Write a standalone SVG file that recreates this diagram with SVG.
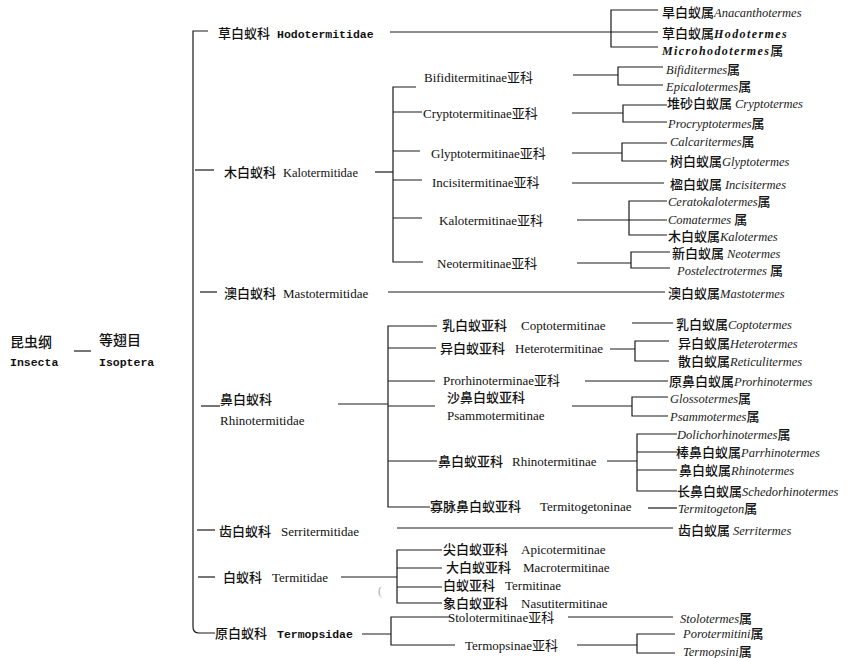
<svg xmlns="http://www.w3.org/2000/svg" width="853" height="658" viewBox="0 0 853 658">
<style>
text{fill:#111}
.zh{font-family:"Noto Sans CJK SC",sans-serif;font-size:13px;font-weight:500}
.zr{font-family:"Noto Sans CJK SC",sans-serif;font-size:14px;font-weight:500}
.sf{font-family:"Liberation Serif","Noto Sans CJK SC",serif;font-size:13px}
.it{font-family:"Liberation Serif",serif;font-style:italic;font-size:12.5px;fill:#222}
.bi{font-family:"Liberation Serif",serif;font-style:italic;font-weight:bold;font-size:12px;letter-spacing:1.4px}
.mo{font-family:"Liberation Mono",monospace;font-weight:bold;font-size:11.5px}
.c path{stroke:#1a1a1a;stroke-width:1.2;fill:none}
</style>
<rect width="853" height="658" fill="#fff"/>
<g id="connectors" class="c">
<path d="M74,351 H91"/>
<path d="M208,31 H193 V627 Q193,633 199,633 H215"/>
<path d="M195,170 H214"/>
<path d="M200,292 H217"/>
<path d="M201,406 H220"/>
<path d="M197,530 H215"/>
<path d="M198,577 H215"/>
<path d="M390,32 H611"/>
<path d="M658,10 H611 V47 H658 M611,32 H658"/>
<path d="M375,172 H393"/>
<path d="M416,87 H393 V262 H423 M393,112 H422 M393,151 H420 M393,180 H422 M393,218 H422"/>
<path d="M573,75 H618 M663,67 H618 V85 H663"/>
<path d="M572,113 H623 M667,105 H623 V122 H667"/>
<path d="M572,153 H622 M667,143 H622 V161 H667"/>
<path d="M572,183 H664"/>
<path d="M577,220 H667 M667,201 H629 V235 H667"/>
<path d="M577,263 H631 M670,252 H631 V268 H670"/>
<path d="M388,292 H665"/>
<path d="M338,404 H388"/>
<path d="M437,326 H388 V507 H430 M388,348 H436 M388,381 H435 M388,406 H435 M388,461 H437"/>
<path d="M632,323 H673"/>
<path d="M610,349 H635 M669,341 H635 V361 H669"/>
<path d="M585,381 H668"/>
<path d="M572,406 H632 M668,397 H632 V416 H668"/>
<path d="M607,461 H637 M677,434 H637 V491 H677 M637,452 H677 M637,470 H677"/>
<path d="M648,508 H677"/>
<path d="M397,528 H673"/>
<path d="M341,577 H397 M442,550 H397 V603 H442 M397,568 H442 M397,587 H442"/>
<path d="M362,634 H391 M450,617 H391 V645 H455"/>
<path d="M568,617 H673"/>
<path d="M577,645 H637 M675,634 H637 V653 H675"/>
</g>
<g id="n-insecta"><text class="zr" x="10" y="347">昆虫纲</text><text class="mo" x="10" y="366">Insecta</text></g>
<g id="n-isoptera"><text class="zr" x="99" y="345">等翅目</text><text class="mo" x="99" y="366">Isoptera</text></g>

<g id="f-hodotermitidae"><text x="218" y="37.5"><tspan class="zh">草白蚁科</tspan><tspan class="mo" x="277">Hodotermitidae</tspan></text></g>
<g id="g-anacanthotermes"><text x="662" y="16.5"><tspan class="zh">旱白蚁属</tspan><tspan class="it">Anacanthotermes</tspan></text></g>
<g id="g-hodotermes"><text x="662" y="37.5"><tspan class="zh">草白蚁属</tspan><tspan class="bi">Hodotermes</tspan></text></g>
<g id="g-microhodotermes"><text x="662" y="54.5"><tspan class="bi">Microhodotermes</tspan><tspan class="zh">属</tspan></text></g>

<g id="f-kalotermitidae"><text x="224" y="176.5"><tspan class="zh">木白蚁科</tspan><tspan class="sf" x="283" style="font-size:12.5px">Kalotermitidae</tspan></text></g>
<g id="s-bifiditermitinae"><text class="sf" x="424" y="81.5">Bifiditermitinae亚科</text></g>
<g id="s-cryptotermitinae"><text class="sf" x="423" y="117.5">Cryptotermitinae亚科</text></g>
<g id="s-glyptotermitinae"><text class="sf" x="431" y="157.5">Glyptotermitinae亚科</text></g>
<g id="s-incisitermitinae"><text class="sf" x="432" y="186.5">Incisitermitinae亚科</text></g>
<g id="s-kalotermitinae"><text class="sf" x="439" y="224.5">Kalotermitinae亚科</text></g>
<g id="s-neotermitinae"><text class="sf" x="437" y="267.5">Neotermitinae亚科</text></g>
<g id="g-bifiditermes"><text x="666" y="73.5"><tspan class="it">Bifiditermes</tspan><tspan class="zh">属</tspan></text></g>
<g id="g-epicalotermes"><text x="666" y="90.5"><tspan class="it">Epicalotermes</tspan><tspan class="zh">属</tspan></text></g>
<g id="g-cryptotermes"><text x="667" y="107.5"><tspan class="zh">堆砂白蚁属 </tspan><tspan class="it">Cryptotermes</tspan></text></g>
<g id="g-procryptotermes"><text x="668" y="127.5"><tspan class="it">Procryptotermes</tspan><tspan class="zh">属</tspan></text></g>
<g id="g-calcaritermes"><text x="670" y="145.5"><tspan class="it">Calcaritermes</tspan><tspan class="zh">属</tspan></text></g>
<g id="g-glyptotermes"><text x="670" y="165.5"><tspan class="zh">树白蚁属</tspan><tspan class="it">Glyptotermes</tspan></text></g>
<g id="g-incisitermes"><text x="670" y="188.5"><tspan class="zh">楹白蚁属 </tspan><tspan class="it">Incisitermes</tspan></text></g>
<g id="g-ceratokalotermes"><text x="668" y="205.5"><tspan class="it">Ceratokalotermes</tspan><tspan class="zh">属</tspan></text></g>
<g id="g-comatermes"><text x="668" y="223.5"><tspan class="it">Comatermes </tspan><tspan class="zh">属</tspan></text></g>
<g id="g-kalotermes"><text x="668" y="240.5"><tspan class="zh">木白蚁属</tspan><tspan class="it">Kalotermes</tspan></text></g>
<g id="g-neotermes"><text x="672" y="257.5"><tspan class="zh">新白蚁属 </tspan><tspan class="it">Neotermes</tspan></text></g>
<g id="g-postelectrotermes"><text x="677" y="274.5"><tspan class="it">Postelectrotermes </tspan><tspan class="zh">属</tspan></text></g>

<g id="f-mastotermitidae"><text x="224" y="297.5"><tspan class="zh">澳白蚁科</tspan><tspan class="sf" x="283">Mastotermitidae</tspan></text></g>
<g id="g-mastotermes"><text x="668" y="297.5"><tspan class="zh">澳白蚁属</tspan><tspan class="it">Mastotermes</tspan></text></g>

<g id="f-rhinotermitidae"><text class="zh" x="220" y="403.5">鼻白蚁科</text><text class="sf" x="220" y="424.5">Rhinotermitidae</text></g>
<g id="s-coptotermitinae"><text x="442" y="329.5"><tspan class="zh">乳白蚁亚科</tspan><tspan class="sf" x="521">Coptotermitinae</tspan></text></g>
<g id="s-heterotermitinae"><text x="440" y="352.5"><tspan class="zh">异白蚁亚科</tspan><tspan class="sf" x="515">Heterotermitinae</tspan></text></g>
<g id="s-prorhinoterminae"><text class="sf" x="443" y="384.5">Prorhinoterminae亚科</text></g>
<g id="s-psammotermitinae"><text class="zh" x="447" y="401.5">沙鼻白蚁亚科</text><text class="sf" x="447" y="419.5">Psammotermitinae</text></g>
<g id="s-rhinotermitinae"><text x="438" y="465.5"><tspan class="zh">鼻白蚁亚科</tspan><tspan class="sf" x="512">Rhinotermitinae</tspan></text></g>
<g id="s-termitogetoninae"><text x="430" y="510.5"><tspan class="zh">寡脉鼻白蚁亚科</tspan><tspan class="sf" x="540">Termitogetoninae</tspan></text></g>
<g id="g-coptotermes"><text x="676" y="328.5"><tspan class="zh">乳白蚁属</tspan><tspan class="it">Coptotermes</tspan></text></g>
<g id="g-heterotermes"><text x="678" y="347.5"><tspan class="zh">异白蚁属</tspan><tspan class="it">Heterotermes</tspan></text></g>
<g id="g-reticulitermes"><text x="678" y="365.5"><tspan class="zh">散白蚁属</tspan><tspan class="it">Reticulitermes</tspan></text></g>
<g id="g-prorhinotermes"><text x="669" y="385.5"><tspan class="zh">原鼻白蚁属</tspan><tspan class="it">Prorhinotermes</tspan></text></g>
<g id="g-glossotermes"><text x="670" y="402.5"><tspan class="it">Glossotermes</tspan><tspan class="zh">属</tspan></text></g>
<g id="g-psammotermes"><text x="670" y="420.5"><tspan class="it">Psammotermes</tspan><tspan class="zh">属</tspan></text></g>
<g id="g-dolichorhinotermes"><text x="677" y="438.5"><tspan class="it">Dolichorhinotermes</tspan><tspan class="zh">属</tspan></text></g>
<g id="g-parrhinotermes"><text x="676" y="456.5"><tspan class="zh">棒鼻白蚁属</tspan><tspan class="it">Parrhinotermes</tspan></text></g>
<g id="g-rhinotermes"><text x="679" y="474.5"><tspan class="zh">鼻白蚁属</tspan><tspan class="it">Rhinotermes</tspan></text></g>
<g id="g-schedorhinotermes"><text x="677" y="495.5"><tspan class="zh">长鼻白蚁属</tspan><tspan class="it">Schedorhinotermes</tspan></text></g>
<g id="g-termitogeton"><text x="678" y="512.5"><tspan class="it">Termitogeton</tspan><tspan class="zh">属</tspan></text></g>

<g id="f-serritermitidae"><text x="219" y="535.5"><tspan class="zh">齿白蚁科</tspan><tspan class="sf" x="281">Serritermitidae</tspan></text></g>
<g id="g-serritermes"><text x="678" y="534.5"><tspan class="zh">齿白蚁属 </tspan><tspan class="it">Serritermes</tspan></text></g>

<g id="f-termitidae"><text x="223" y="581.5"><tspan class="zh">白蚁科</tspan><tspan class="sf" x="272">Termitidae</tspan></text></g>
<g id="s-apicotermitinae"><text x="443" y="553.5"><tspan class="zh">尖白蚁亚科</tspan><tspan class="sf" x="521">Apicotermitinae</tspan></text></g>
<g id="s-macrotermitinae"><text x="446" y="571.5"><tspan class="zh">大白蚁亚科</tspan><tspan class="sf" x="523">Macrotermitinae</tspan></text></g>
<g id="s-termitinae"><text x="443" y="589.5"><tspan class="zh">白蚁亚科</tspan><tspan class="sf" x="505">Termitinae</tspan></text></g>
<g id="s-nasutitermitinae"><text x="443" y="607.5"><tspan class="zh">象白蚁亚科</tspan><tspan class="sf" x="521">Nasutitermitinae</tspan></text></g>
<text x="378" y="595" style="font-family:'Liberation Serif',serif;font-size:12px;fill:#aaa">(</text>

<g id="f-termopsidae"><text x="215" y="637.5"><tspan class="zh">原白蚁科</tspan><tspan class="mo" x="277">Termopsidae</tspan></text></g>
<g id="s-stolotermitinae"><text class="sf" x="448" y="621.5">Stolotermitinae亚科</text></g>
<g id="s-termopsinae"><text class="sf" x="465" y="649.5">Termopsinae亚科</text></g>
<g id="g-stolotermes"><text x="680" y="622.5"><tspan class="it">Stolotermes</tspan><tspan class="zh">属</tspan></text></g>
<g id="g-porotermitini"><text x="683" y="637.5"><tspan class="it">Porotermitini</tspan><tspan class="zh">属</tspan></text></g>
<g id="g-termopsini"><text x="683" y="655.5"><tspan class="it">Termopsini</tspan><tspan class="zh">属</tspan></text></g>
</svg>
